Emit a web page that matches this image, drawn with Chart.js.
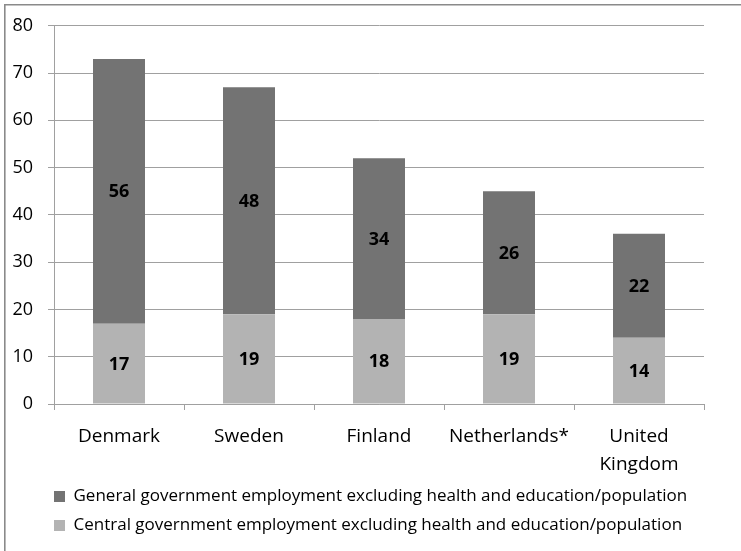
<!DOCTYPE html>
<html>
<head>
<meta charset="utf-8">
<script src="https://cdn.jsdelivr.net/npm/chart.js@4"></script>
<style>
  html, body { margin: 0; padding: 0; background: #fff; }
  #wrap { width: 741px; height: 551px; position: relative; }
</style>
</head>
<body>
<div id="wrap"><canvas id="chart" width="741" height="551"></canvas></div>
<script>
// Datos por país
const countries = ['Denmark', 'Sweden', 'Finland', 'Netherlands*', ['United', 'Kingdom']];
const centralValues = [17, 19, 18, 19, 14];
const generalValues = [56, 48, 34, 26, 22];
const yTicks = [0, 10, 20, 30, 40, 50, 60, 70, 80];

const centralLabel = 'Central government employment excluding health and education/population';
const generalLabel = 'General government employment excluding health and education/population';

const FONT = '"Open Sans", "Liberation Sans", sans-serif';
const GRID = '#a0a0a0';

// Marco exterior (solo izquierda y arriba)
const framePlugin = {
    id: 'frame',
    beforeDraw(chart) {
        const ctx = chart.ctx;
        ctx.save();
        ctx.fillStyle = '#fff';
        ctx.fillRect(0, 0, chart.width, chart.height);
        ctx.strokeStyle = '#8a8a8a';
        ctx.lineWidth = 1.6;
        ctx.beginPath();
        ctx.moveTo(4.8, chart.height);
        ctx.lineTo(4.8, 4.8);
        ctx.lineTo(chart.width, 4.8);
        ctx.stroke();
        ctx.restore();
    },
    // la leyenda empieza alineada con el eje Y
    afterLayout(chart) {
        if (chart.legend) chart.legend.left = 42;
    }
};

// Valores dentro de cada segmento
const segmentLabels = {
    id: 'segmentLabels',
    afterDatasetsDraw(chart) {
        const ctx = chart.ctx;
        ctx.save();
        ctx.font = 'bold 18px ' + FONT;
        ctx.fillStyle = '#000';
        ctx.textAlign = 'center';
        ctx.textBaseline = 'middle';
        chart.data.datasets.forEach((ds, i) => {
            chart.getDatasetMeta(i).data.forEach((bar, j) => {
                ctx.fillText(ds.data[j], bar.x, (bar.y + bar.base) / 2 + 1);
            });
        });
        ctx.restore();
    }
};

new Chart(document.getElementById('chart'), {
    type: 'bar',
    data: {
        labels: countries,
        datasets: [
            {
                label: centralLabel,
                data: centralValues,
                backgroundColor: '#b3b3b3',
                categoryPercentage: 1,
                barPercentage: 0.4
            },
            {
                label: generalLabel,
                data: generalValues,
                backgroundColor: '#737373',
                categoryPercentage: 1,
                barPercentage: 0.4
            }
        ]
    },
    options: {
        responsive: false,
        animation: false,
        layout: { padding: { left: 4, right: 37, top: 23, bottom: 7 } },
        scales: {
            x: {
                stacked: true,
                afterFit: s => { s.height = 72; },
                grid: { drawOnChartArea: false, drawTicks: true, tickLength: 6, color: GRID, offset: true },
                border: { color: GRID, width: 1 },
                ticks: {
                    color: '#000',
                    padding: 13,
                    maxRotation: 0,
                    font: { family: FONT, size: 19, lineHeight: 1.47 }
                }
            },
            y: {
                stacked: true,
                min: 0,
                max: 80,
                afterFit: s => { s.width = 50; },
                afterBuildTicks: s => { s.ticks = yTicks.map(v => ({ value: v })); },
                grid: { color: GRID, tickLength: 6 },
                border: { color: GRID, width: 1 },
                ticks: {
                    color: '#000',
                    padding: 15,
                    font: { family: FONT, size: 18 }
                }
            }
        },
        plugins: {
            legend: {
                position: 'bottom',
                align: 'start',
                reverse: true,
                labels: {
                    boxWidth: 11,
                    boxHeight: 11,
                    padding: 12,
                    color: '#000',
                    font: { family: FONT, size: 17 }
                }
            },
            tooltip: { enabled: false }
        }
    },
    plugins: [framePlugin, segmentLabels]
});
</script>
</body>
</html>
